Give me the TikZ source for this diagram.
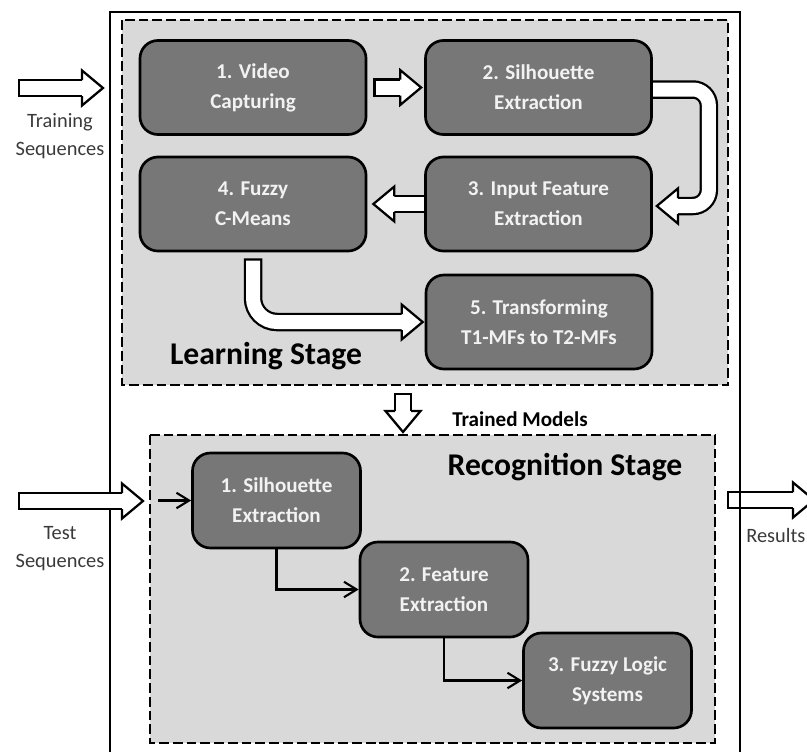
\documentclass[tikz,border=0pt]{standalone}
\usepackage{fontspec}
\setmainfont{Carlito}
\usepackage{xcolor}
\usetikzlibrary{arrows.meta, calc}
\definecolor{boxgray}{HTML}{777777}
\definecolor{stagegray}{HTML}{D9D9D9}
\definecolor{boxtext}{HTML}{F2F2F2}
\definecolor{sidetext}{HTML}{3A3A3A}

\begin{document}
\begin{tikzpicture}[
    x=0.025cm, y=-0.025cm,
    stepbox/.style={rectangle, rounded corners=0.45cm, draw=black, line width=1.9pt, fill=boxgray, text=boxtext, align=center, minimum width=5.65cm, minimum height=2.35cm, font=\fontsize{15}{21.5}\selectfont\bfseries},
    recbox/.style={stepbox, minimum width=4.2cm, minimum height=2.375cm},
    stagebox/.style={draw=black, fill=stagegray, line width=2pt, dash pattern=on 7pt off 2.8pt},
    stagetitle/.style={font=\fontsize{22.5}{26}\selectfont\bfseries},
    sidelabel/.style={align=center, text=sidetext, font=\fontsize{14.5}{20}\selectfont},
    fatshaft/.style={draw=white, line width=0.35cm, shorten <=1.6pt, preaction={draw=black, line width=0.35cm+3.2pt, shorten <=0pt}},
    thinarrow/.style={-{Straight Barb[length=9pt, width=11pt]}, line width=1.5pt},
    pics/fathead/.style={code={\filldraw[draw=black, fill=white, line width=1.6pt, line join=miter] (-21,-8) -- (-21,-17.5) -- (0,0) -- (-21,17.5) -- (-21,8);}}
]
\clip (0,0) rectangle (807,751);

% results leaves under the frame line
\coordinate (resin) at (727,500);
\coordinate (restip) at (814,500);
\draw[fatshaft] (resin) -- ($(restip)+(-20,0)$);
\pic at (restip) {fathead};

% frame and the two stages
\draw[line width=1.5pt] (110,12) rectangle (740,800);
\draw[stagebox] (122,20) rectangle (728,385);
\draw[stagebox] (150,435) rectangle (715,743);

% learning stage
\node[stepbox] (vid) at (253,87.5) {1. Video\\Capturing};
\node[stepbox] (sil) at (538.5,87.5) {2. Silhouette\\Extraction};
\node[stepbox] (fcm) at (253,204) {4. Fuzzy\\C-Means};
\node[stepbox] (inp) at (538.5,204) {3. Input Feature\\Extraction};
\node[stepbox] (tra) at (539,322) {5. Transforming\\T1-MFs to T2-MFs};
\node[stagetitle] (learn) at (266,356) {Learning Stage};

% recognition stage
\node[font=\fontsize{15}{18}\selectfont\bfseries] (models) at (520,419) {Trained Models};
\node[stagetitle] (recog) at (565,467) {Recognition Stage};
\node[recbox] (rsil) at (276.5,500.5) {1. Silhouette\\Extraction};
\node[recbox] (rfeat) at (444,589.5) {2. Feature\\Extraction};
\node[recbox] (rfls) at (607.5,680.5) {3. Fuzzy Logic\\Systems};

% side labels
\node[sidelabel] (trainlbl) at (60,136) {Training\\Sequences};
\node[sidelabel] (testlbl) at (60,549) {Test\\Sequences};
\node[sidelabel, anchor=east, inner xsep=1pt] (reslbl) at (807,535) {Results};

% block arrows
\coordinate (trainin) at (18,88);
\coordinate (traintip) at (103,88);
\draw[fatshaft] (trainin) -- ($(traintip)+(-20,0)$);
\pic at (traintip) {fathead};

\draw[fatshaft] ($(vid.east)+(6,0)$) -- ($(sil.west)+(-23,0)$);
\pic at ($(sil.west)+(-3,0)$) {fathead};

\draw[fatshaft, rounded corners=0.4cm] ($(sil.east)+(-2,2)$) -- ++(58,0) |- ($(inp.east)+(24,2)$);
\pic[rotate=180] at ($(inp.east)+(4,2)$) {fathead};

\draw[fatshaft] ($(inp.west)+(2,0)$) -- ($(fcm.east)+(26,0)$);
\pic[rotate=180] at ($(fcm.east)+(6,0)$) {fathead};

\draw[fatshaft, rounded corners=0.6cm] ($(fcm.south)+(0,6)$) |- ($(tra.west)+(-22,0)$);
\pic at ($(tra.west)+(-2,0)$) {fathead};

\coordinate (modelin) at (403,393);
\coordinate (modeltip) at (403,432);
\draw[fatshaft] (modelin) -- ($(modeltip)+(0,-20)$);
\pic[rotate=-90] at (modeltip) {fathead};

\coordinate (testin) at (18,501);
\coordinate (testtip) at (143,501);
\draw[fatshaft] (testin) -- ($(testtip)+(-20,0)$);
\pic at (testtip) {fathead};

% recognition flow
\coordinate (recin) at (158,500.5);
\draw[thinarrow] (recin) -- (rsil.west);
\draw[thinarrow] (rsil.south) |- (rfeat.west);
\draw[thinarrow] (rfeat.south) |- (rfls.west);
\end{tikzpicture}
\end{document}
